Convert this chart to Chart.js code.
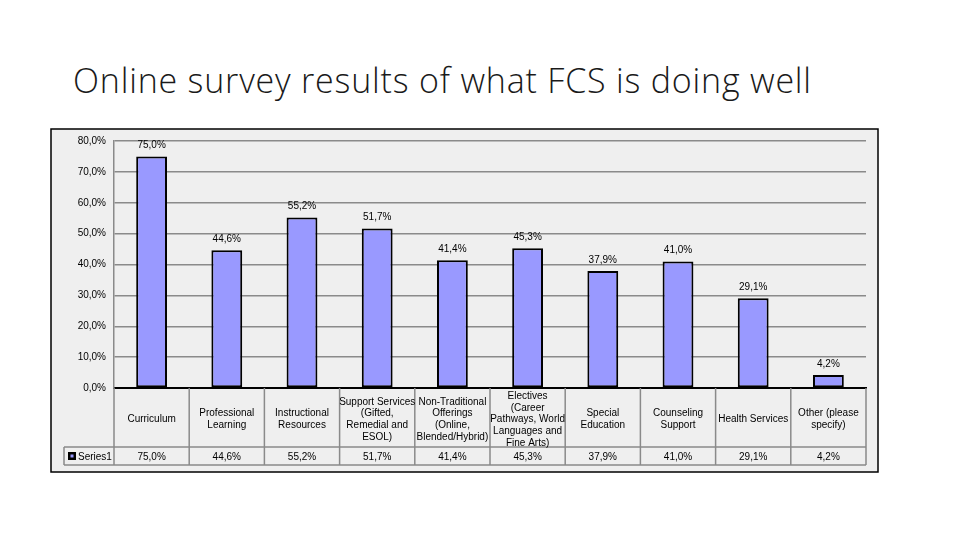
<!DOCTYPE html>
<html>
<head>
<meta charset="utf-8">
<script src="https://cdn.jsdelivr.net/npm/chart.js@4.4.1/dist/chart.umd.min.js"></script>
<style>
  html, body { margin: 0; padding: 0; background: #fff; }
  #wrap { position: relative; width: 960px; height: 540px; overflow: hidden; }
  #title {
    position: absolute; left: 73px; top: 57px;
    font-family: "Open Sans", sans-serif; font-weight: 300;
    font-size: 34px; letter-spacing: 0.8px; color: #1a1a1a; white-space: nowrap;
  }
  #surveyChart { position: absolute; left: 0; top: 0; }
</style>
</head>
<body>
<div id="wrap">
  <div id="title">Online survey results of what FCS is doing well</div>
  <canvas id="surveyChart" width="960" height="540"></canvas>
</div>
<script>
// categories, each split into the lines shown in the table
const categories = [
    ["Curriculum"],
    ["Professional", "Learning"],
    ["Instructional", "Resources"],
    ["Support Services", "(Gifted,", "Remedial and", "ESOL)"],
    ["Non-Traditional", "Offerings", "(Online,", "Blended/Hybrid)"],
    ["Electives", "(Career", "Pathways, World", "Languages and", "Fine Arts)"],
    ["Special", "Education"],
    ["Counseling", "Support"],
    ["Health Services"],
    ["Other (please", "specify)"]
];
const seriesName = "Series1";
const seriesValues = [75.0, 44.6, 55.2, 51.7, 41.4, 45.3, 37.9, 41.0, 29.1, 4.2];
const yTicks = [0, 10, 20, 30, 40, 50, 60, 70, 80];

const smallFont = "10px 'Liberation Sans', Arial, sans-serif";

function pct(v) {
    return v.toFixed(1).replace('.', ',') + '%';
}

// grey panel with black frame behind everything
const framePlugin = {
    id: 'frame',
    beforeDraw(chart) {
        const ctx = chart.ctx;
        const a = chart.chartArea;
        ctx.save();
        ctx.fillStyle = '#efefef';
        ctx.fillRect(a.left - 63, a.top - 12, a.right - a.left + 75, 343);
        ctx.strokeStyle = '#000';
        ctx.lineWidth = 1.5;
        ctx.strokeRect(a.left - 63, a.top - 12, a.right - a.left + 75, 343);
        ctx.restore();
    }
};

// value labels over the bars
const valueLabels = {
    id: 'valueLabels',
    afterDatasetsDraw(chart) {
        const ctx = chart.ctx;
        const meta = chart.getDatasetMeta(0);
        ctx.save();
        ctx.font = smallFont;
        ctx.fillStyle = '#000';
        ctx.textAlign = 'center';
        ctx.textBaseline = 'middle';
        meta.data.forEach((bar, i) => {
            ctx.fillText(pct(seriesValues[i]), bar.x, bar.y - 11);
        });
        ctx.restore();
    }
};

// data table under the x axis
const dataTable = {
    id: 'dataTable',
    afterDraw(chart) {
        const ctx = chart.ctx;
        const a = chart.chartArea;
        const x = chart.scales.x;
        const colW = (a.right - a.left) / categories.length;
        const row1Bottom = a.bottom + 59;
        const row2Bottom = row1Bottom + 18;
        const keyLeft = a.left - 50;

        ctx.save();
        ctx.strokeStyle = '#8a8a8a';
        ctx.lineWidth = 1.5;
        ctx.beginPath();
        for (let i = 0; i <= categories.length; i++) {
            const px = a.left + i * colW;
            ctx.moveTo(px, a.bottom);
            ctx.lineTo(px, row2Bottom);
        }
        ctx.moveTo(keyLeft, row1Bottom);
        ctx.lineTo(a.right, row1Bottom);
        ctx.moveTo(keyLeft, row2Bottom);
        ctx.lineTo(a.right, row2Bottom);
        ctx.moveTo(keyLeft, row1Bottom);
        ctx.lineTo(keyLeft, row2Bottom);
        ctx.stroke();

        ctx.font = smallFont;
        ctx.fillStyle = '#000';
        ctx.textAlign = 'center';
        ctx.textBaseline = 'middle';
        const lineH = 11.7;
        const midY = (a.bottom + row1Bottom) / 2 + 2;
        categories.forEach((lines, i) => {
            const cx = x.getPixelForValue(i);
            const startY = midY - (lines.length - 1) * lineH / 2;
            lines.forEach((t, j) => ctx.fillText(t, cx, startY + j * lineH));
            ctx.fillText(pct(seriesValues[i]), cx, (row1Bottom + row2Bottom) / 2 + 1);
        });

        // legend key + series name
        const ky = (row1Bottom + row2Bottom) / 2;
        ctx.fillStyle = '#000';
        ctx.fillRect(keyLeft + 4, ky - 4, 8, 8);
        ctx.fillStyle = '#9999ff';
        ctx.fillRect(keyLeft + 6.5, ky - 1.5, 3, 3);
        ctx.fillStyle = '#000';
        ctx.textAlign = 'left';
        ctx.fillText(seriesName, keyLeft + 14, ky + 1);
        ctx.restore();
    }
};

const ctx = document.getElementById('surveyChart');
new Chart(ctx, {
    type: 'bar',
    data: {
        labels: categories.map(c => c.join(' ')),
        datasets: [{
            label: seriesName,
            data: seriesValues,
            backgroundColor: '#9999ff',
            borderColor: '#000',
            borderWidth: 2,
            borderSkipped: false,
            categoryPercentage: 1,
            barPercentage: 0.41
        }]
    },
    options: {
        responsive: false,
        animation: false,
        devicePixelRatio: 1,
        layout: { padding: { left: 52, right: 94, top: 141, bottom: 152 } },
        plugins: {
            legend: { display: false },
            tooltip: { enabled: false }
        },
        scales: {
            x: {
                ticks: { display: false },
                grid: { display: false, drawTicks: false },
                border: { display: true, color: '#000', width: 2 }
            },
            y: {
                min: 0,
                max: 80,
                afterFit: s => { s.width = 62; },
                afterBuildTicks: s => { s.ticks = yTicks.map(v => ({ value: v })); },
                ticks: {
                    padding: 8,
                    color: '#000',
                    font: { family: "'Liberation Sans', Arial, sans-serif", size: 10 },
                    callback: v => pct(v)
                },
                grid: { color: '#8a8a8a', lineWidth: 1.5, drawTicks: false },
                border: { display: true, color: '#8a8a8a', width: 1.5 }
            }
        }
    },
    plugins: [framePlugin, valueLabels, dataTable]
});
</script>
</body>
</html>
